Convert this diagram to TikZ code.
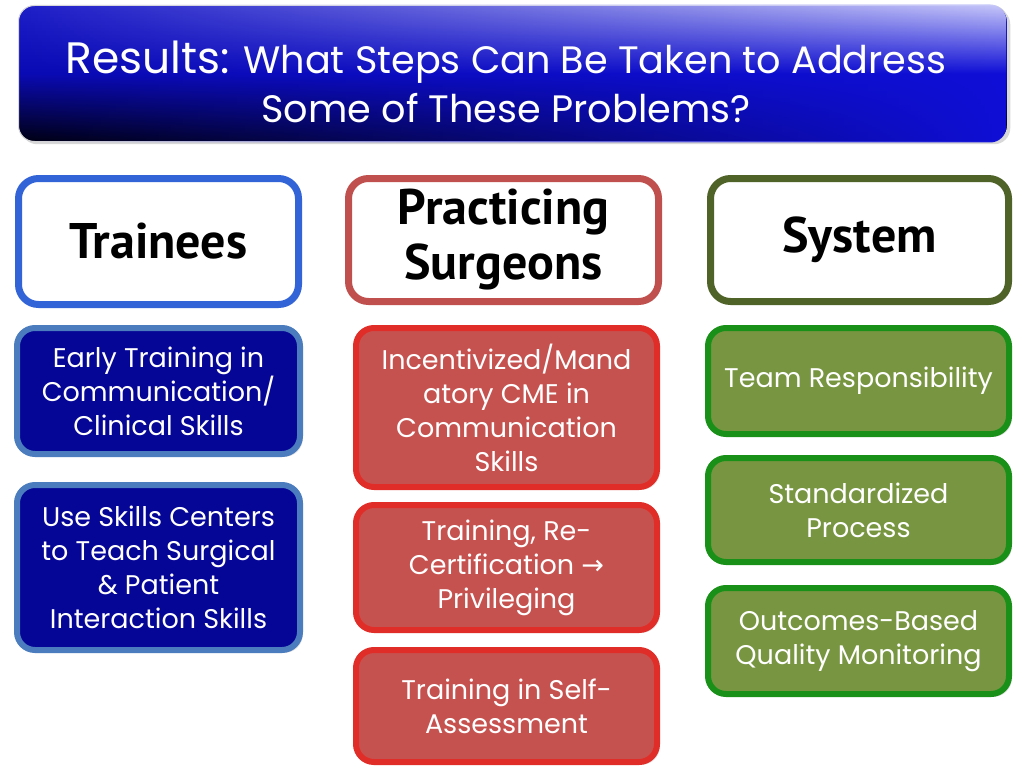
\documentclass[tikz,border=0pt]{standalone}
\usepackage{xcolor}
\usepackage{fontspec}
\setmainfont{Poppins}
\newfontfamily\headfont{PT Sans}
\newfontfamily\arrowfont{DejaVu Sans}
\usetikzlibrary{shadows,backgrounds,fadings}

\definecolor{titledark}{RGB}{0,0,18}
\definecolor{titlemid}{RGB}{10,10,180}
\definecolor{titletop}{RGB}{30,30,200}
\definecolor{titlebright}{RGB}{15,15,215}
\definecolor{titlelight}{RGB}{200,200,250}
\definecolor{traineehead}{RGB}{50,100,215}
\definecolor{traineeedge}{RGB}{75,125,190}
\definecolor{traineefill}{RGB}{5,5,150}
\definecolor{traineelink}{RGB}{60,90,125}
\definecolor{surgeonhead}{RGB}{192,80,77}
\definecolor{surgeonedge}{RGB}{225,45,40}
\definecolor{surgeonfill}{RGB}{198,82,80}
\definecolor{surgeonlink}{RGB}{140,70,20}
\definecolor{systemhead}{RGB}{79,98,40}
\definecolor{systemedge}{RGB}{25,145,25}
\definecolor{systemfill}{RGB}{120,150,65}
\definecolor{systemlink}{RGB}{80,90,60}

\tikzfading[name=fade in right, left color=transparent!100, right color=transparent!0, middle color=transparent!50]

\tikzset{
	banner/.style={rounded corners=16pt, draw=black!15, line width=1pt, top color=titletop, bottom color=titledark, middle color=titlemid, drop shadow={opacity=0.3}},
	gloss/.style={rounded corners=16pt, top color=titlelight, bottom color=titlebright, middle color=titlebright, path fading=fade in right},
	head/.style={draw=#1, line width=7pt, fill=white, rounded corners=20pt, align=center, font=\headfont\bfseries\fontsize{50}{55}\selectfont, drop shadow={opacity=0.25}},
	item/.style 2 args={draw=#1, fill=#2, line width=6pt, rounded corners=18pt, align=center, text=white, font=\fontsize{27}{34}\selectfont, drop shadow={opacity=0.25}},
	link/.style={draw=#1, line width=3pt},
}

\begin{document}
	\begin{tikzpicture}[x=1pt, y=-1pt]
		\useasboundingbox[fill=white] (0,0) rectangle (1024,768);
		\node[banner, minimum width=989, minimum height=136] (banner) at (513,73.5) {};
		\shade[gloss] ([shift={(0.5,-0.5)}]banner.north west) rectangle ([shift={(-0.5,0.5)}]banner.south east);
		\node[text=white, align=center, font=\fontsize{38.2}{49}\selectfont] (question) at (506,82) {{\fontsize{44}{49}\selectfont Results:} What Steps Can Be Taken to Address\\Some of These Problems?};

		\node[head=traineehead, minimum width=280, minimum height=126] (trainees) at (158.5,241.5) {Trainees};
		\node[head=surgeonhead, minimum width=310, minimum height=123] (surgeons) at (503.5,240) {Practicing\\Surgeons};
		\node[head=systemhead, minimum width=298, minimum height=123] (system) at (859.5,240) {System};

		\node[item={traineeedge}{traineefill}, minimum width=283, minimum height=126] (early) at (158.5,391) {Early Training in\\Communication/\\Clinical Skills};
		\node[item={traineeedge}{traineefill}, minimum width=283, minimum height=165] (centers) at (158.5,567.5) {Use Skills Centers\\to Teach Surgical\\\& Patient\\Interaction Skills};

		\node[item={surgeonedge}{surgeonfill}, minimum width=301, minimum height=159] (cme) at (506.5,407.5) {Incentivized/Mand\\atory CME in\\Communication\\Skills};
		\node[item={surgeonedge}{surgeonfill}, minimum width=301, minimum height=125] (recert) at (506.5,567.5) {Training, Re-\\Certification {\arrowfont →}\\Privileging};
		\node[item={surgeonedge}{surgeonfill}, minimum width=301, minimum height=112] (selfassess) at (506.5,706) {Training in Self-\\Assessment};

		\node[item={systemedge}{systemfill}, minimum width=301, minimum height=106] (team) at (858.5,381) {Team Responsibility};
		\node[item={systemedge}{systemfill}, minimum width=301, minimum height=104] (process) at (858.5,510) {Standardized\\Process};
		\node[item={systemedge}{systemfill}, minimum width=301, minimum height=106] (quality) at (858.5,641) {Outcomes-Based\\Quality Monitoring};

		\begin{scope}[on background layer]
			\draw[link=traineelink] ([xshift=-6]trainees.south) -- ([xshift=-6]early.north);
			\draw[link=traineelink] ([xshift=-6]early.south) -- ([xshift=-6]centers.north);
			\draw[link=surgeonlink] ([xshift=-6]surgeons.south) -- ([xshift=-9]cme.north);
			\draw[link=surgeonlink] ([xshift=-9]cme.south) -- ([xshift=-9]recert.north);
			\draw[link=surgeonlink] ([xshift=-9]recert.south) -- ([xshift=-9]selfassess.north);
			\draw[link=systemlink] ([xshift=-3]system.south) -- ([xshift=-2]team.north);
			\draw[link=systemlink] ([xshift=-2]team.south) -- ([xshift=-2]process.north);
			\draw[link=systemlink] ([xshift=-2]process.south) -- ([xshift=-2]quality.north);
		\end{scope}
	\end{tikzpicture}
\end{document}
